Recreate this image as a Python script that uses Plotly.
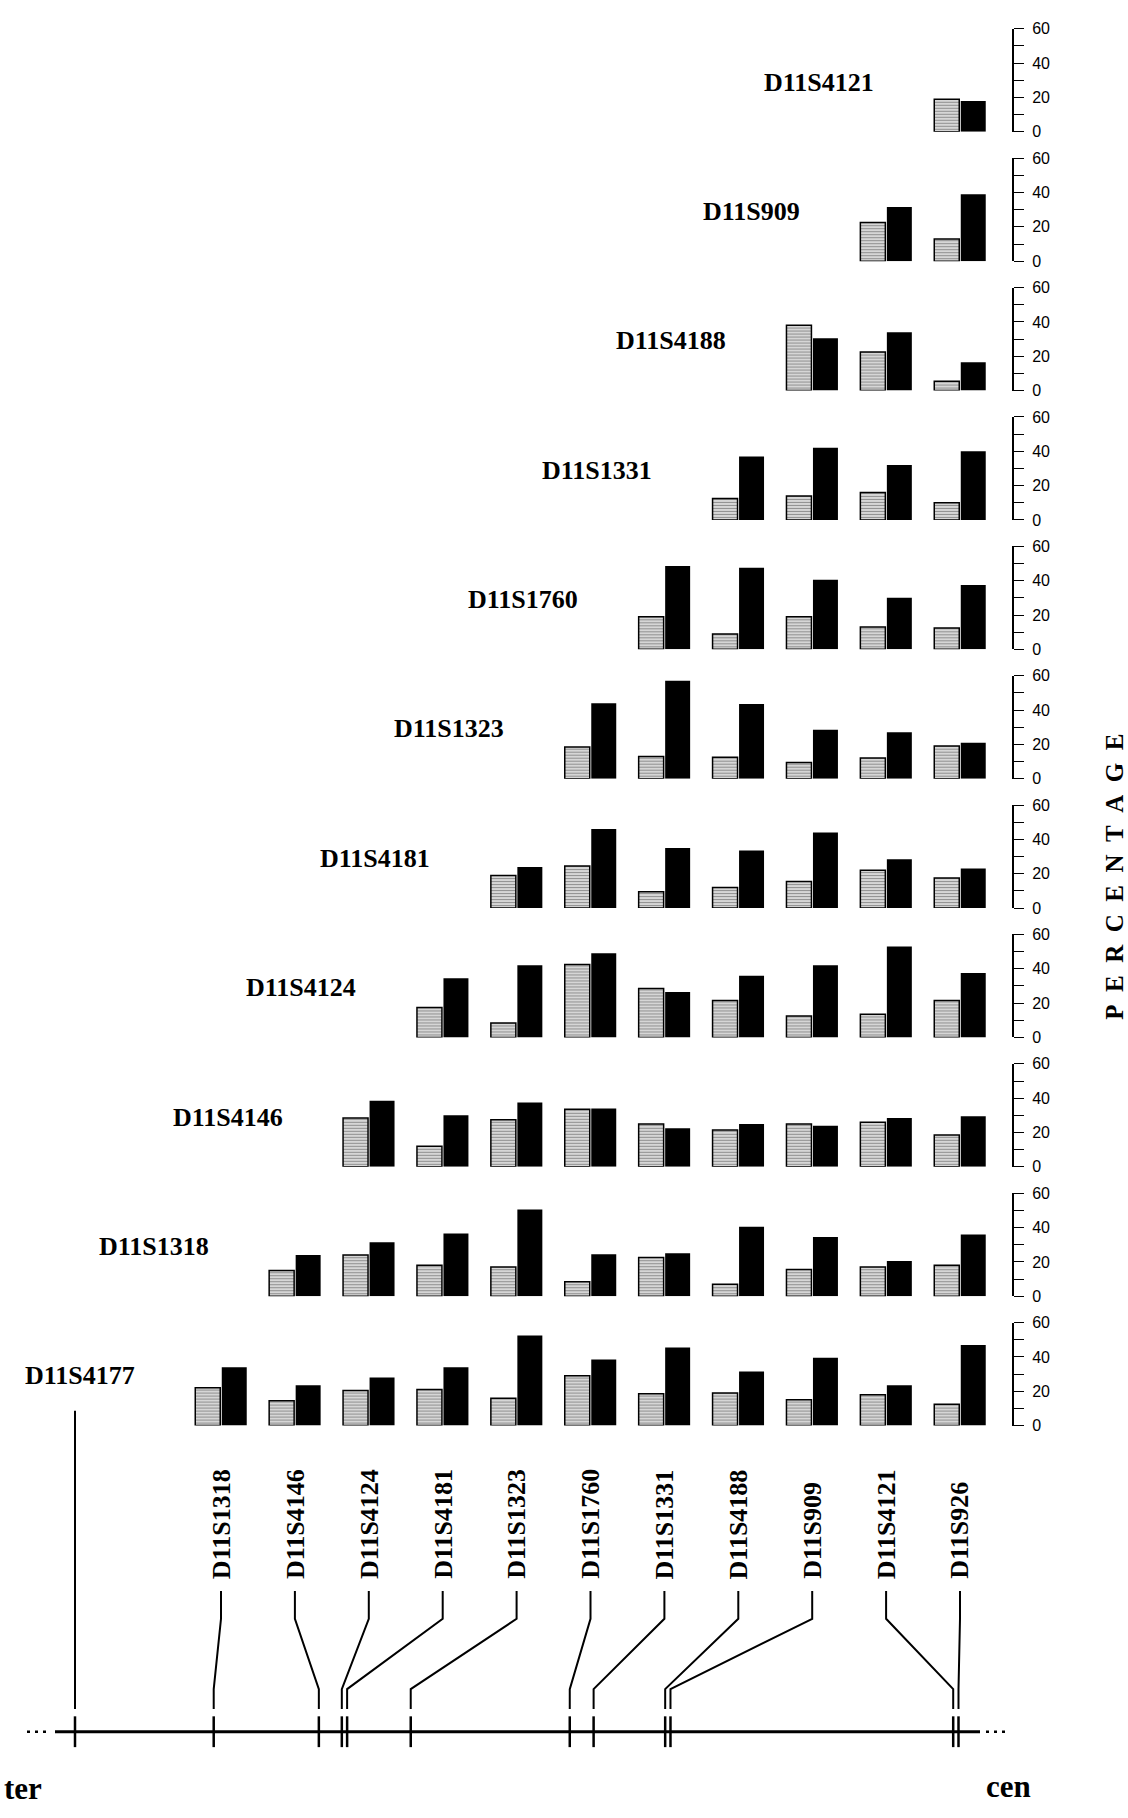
import plotly.graph_objects as go

# Marker columns along the map (ter -> cen); each panel lists its pairs against these
columns = ["D11S1318", "D11S4146", "D11S4124", "D11S4181", "D11S1323", "D11S1760",
           "D11S1331", "D11S4188", "D11S909", "D11S4121", "D11S926"]

# Panels from top to bottom; panel k covers the last k+1 columns
panel_markers = ["D11S4121", "D11S909", "D11S4188", "D11S1331", "D11S1760", "D11S1323",
                 "D11S4181", "D11S4124", "D11S4146", "D11S1318", "D11S4177"]

# Percentages: light (hatched) and dark (solid) bars per panel
light_D11S4121 = [19]
dark_D11S4121 = [18]
light_D11S909 = [22.5, 13]
dark_D11S909 = [31.5, 39]
light_D11S4188 = [38, 22.5, 5.5]
dark_D11S4188 = [30.5, 34, 16.5]
light_D11S1331 = [12.5, 14, 16, 10]
dark_D11S1331 = [37, 42, 32, 40]
light_D11S1760 = [19, 9, 19, 13, 12.5]
dark_D11S1760 = [48.5, 47.5, 40.5, 30, 37.5]
light_D11S1323 = [18.5, 13, 12.5, 9.5, 12, 19]
dark_D11S1323 = [44, 57, 43.5, 28.5, 27, 21]
light_D11S4181 = [19, 24.5, 9.5, 12, 15.5, 22, 17.5]
dark_D11S4181 = [24, 46, 35, 33.5, 44, 28.5, 23]
light_D11S4124 = [17.5, 8.5, 42.5, 28.5, 21.5, 12.5, 13.5, 21.5]
dark_D11S4124 = [34.5, 42, 49, 26.5, 36, 42, 53, 37.5]
light_D11S4146 = [28.5, 12, 27.5, 33.5, 25, 21.5, 25, 26, 18.5]
dark_D11S4146 = [38.5, 30, 37.5, 34, 22.5, 25, 24, 28.5, 29.5]
light_D11S1318 = [15, 24, 18, 17, 8.5, 22.5, 7, 15.5, 17, 18]
dark_D11S1318 = [24, 31.5, 36.5, 50.5, 24.5, 25, 40.5, 34.5, 20.5, 36]
light_D11S4177 = [22, 14.5, 20.5, 21, 16, 29, 18.5, 19, 15, 18, 12.5]
dark_D11S4177 = [34, 23.5, 28, 34, 52.5, 38.5, 45.5, 31.5, 39.5, 23.5, 47]

light_sets = [light_D11S4121, light_D11S909, light_D11S4188, light_D11S1331, light_D11S1760,
              light_D11S1323, light_D11S4181, light_D11S4124, light_D11S4146, light_D11S1318,
              light_D11S4177]
dark_sets = [dark_D11S4121, dark_D11S909, dark_D11S4188, dark_D11S1331, dark_D11S1760,
             dark_D11S1323, dark_D11S4181, dark_D11S4124, dark_D11S4146, dark_D11S1318,
             dark_D11S4177]

# Relative marker positions on the chromosome map (ter = 0, cen end = 100)
map_markers = ["D11S4177"] + columns
map_pos = [0, 15.7, 27.6, 30.2, 30.8, 38.0, 56.0, 58.7, 66.8, 67.4, 99.4, 100]

y_ticks = [0, 20, 40, 60]
y_minor = [10, 30, 50]

# ---- page geometry (pixels) ----
W, H = 1128, 1818
COL0, COLSTEP = 221.0, 73.9           # first column centre, column pitch
MAP0, MAPSCALE = 75.0, 8.835          # map origin and px per map unit
AXIS_X = 1013.0                       # vertical percentage axes
PANEL_BASE0, PANEL_STEP, PANEL_H = 125.0, 130.6, 104.0

SERIF = "Liberation Serif, Times New Roman, serif"
SANS = "Liberation Sans, Arial, sans-serif"


def py(p):
    return 1 - p / H


x_range = [-COL0 / COLSTEP, (W - COL0) / COLSTEP]
map_range = [-MAP0 / MAPSCALE, (W - MAP0) / MAPSCALE]


def col_to_map(idx):
    frac = (idx - x_range[0]) / (x_range[1] - x_range[0])
    return map_range[0] + frac * (map_range[1] - map_range[0])


fig = go.Figure()
layout_axes = {}
annotations = []

n_cols = len(columns)
for k, name in enumerate(panel_markers):
    ax_id = "y" if k == 0 else f"y{k + 1}"
    key = "yaxis" if k == 0 else f"yaxis{k + 1}"
    cats = columns[n_cols - len(light_sets[k]):]
    fig.add_trace(go.Bar(
        x=cats, y=light_sets[k], xaxis="x", yaxis=ax_id, showlegend=False,
        marker=dict(color="#d6d6d6", line=dict(color="black", width=1.5),
                    pattern=dict(shape="-", fgcolor="#4a4a4a", bgcolor="#d6d6d6",
                                 size=3, solidity=0.35)),
    ))
    fig.add_trace(go.Bar(
        x=cats, y=dark_sets[k], xaxis="x", yaxis=ax_id, showlegend=False,
        marker=dict(color="black", line=dict(width=0)),
    ))
    base = PANEL_BASE0 + PANEL_STEP * k
    layout_axes[key] = dict(
        domain=[py(base), py(base - PANEL_H)], range=[0, 60],
        anchor="free", position=AXIS_X / W, side="right",
        showline=True, linecolor="black", linewidth=2,
        ticks="outside", ticklen=10, tickwidth=1, tickcolor="black",
        tickvals=y_ticks, ticklabelstandoff=5,
        tickfont=dict(family=SANS, size=16, color="black"),
        minor=dict(tickvals=y_minor, ticks="outside", ticklen=10, tickwidth=1,
                   tickcolor="black"),
        showgrid=False, zeroline=False, fixedrange=True,
    )
    first_idx = n_cols - len(light_sets[k])
    annotations.append(dict(
        text=f"<b>{name}</b>", xref="x", yref=ax_id, x=first_idx - 1.14, y=29,
        xanchor="right", yanchor="middle", showarrow=False,
        font=dict(family=SERIF, size=26, color="black"),
    ))

# ---- chromosome map ----
map_y = 1740
for idx, name in enumerate(columns):
    u_top = col_to_map(idx)
    u_bot = map_pos[map_markers.index(name)]
    fig.add_trace(go.Scatter(
        x=[u_top, u_top, u_bot, u_bot], y=[1598, 1626, 1697, 1717],
        xaxis="x2", yaxis="y12", mode="lines", showlegend=False,
        line=dict(color="black", width=2), hoverinfo="skip",
    ))
    annotations.append(dict(
        text=f"<b>{name}</b>", xref="x", yref="paper", x=idx, y=py(1588),
        xanchor="center", yanchor="bottom", textangle=-90, showarrow=False,
        font=dict(family=SERIF, size=26, color="black"),
    ))

# line from the D11S4177 panel down to its map position
fig.add_trace(go.Scatter(
    x=[map_pos[0], map_pos[0]], y=[1416, 1717], xaxis="x2", yaxis="y12",
    mode="lines", showlegend=False, line=dict(color="black", width=2), hoverinfo="skip",
))

# baseline of the map
fig.add_trace(go.Scatter(
    x=[(55 - MAP0) / MAPSCALE, (980 - MAP0) / MAPSCALE], y=[map_y, map_y],
    xaxis="x2", yaxis="y12", mode="lines", showlegend=False,
    line=dict(color="black", width=3), hoverinfo="skip",
))
# marker ticks on the map
fig.add_trace(go.Scatter(
    x=map_pos, y=[map_y] * len(map_pos), xaxis="x2", yaxis="y12", mode="markers",
    showlegend=False, hoverinfo="skip",
    marker=dict(symbol="line-ns", size=22, line=dict(color="black", width=2.5)),
))

shapes = [
    dict(type="line", xref="paper", yref="paper", x0=27 / W, x1=50 / W,
         y0=py(map_y), y1=py(map_y), line=dict(color="black", width=2.5, dash="3px,5px")),
    dict(type="line", xref="paper", yref="paper", x0=986 / W, x1=1010 / W,
         y0=py(map_y), y1=py(map_y), line=dict(color="black", width=2.5, dash="3px,5px")),
]

annotations += [
    dict(text="<b>ter</b>", xref="paper", yref="paper", x=2 / W, y=py(1797),
         xanchor="left", yanchor="middle", showarrow=False,
         font=dict(family=SERIF, size=31, color="black")),
    dict(text="<b>cen</b>", xref="paper", yref="paper", x=984 / W, y=py(1795),
         xanchor="left", yanchor="middle", showarrow=False,
         font=dict(family=SERIF, size=31, color="black")),
    dict(text="\u00a0\u00a0".join("PERCENTAGE"), xref="paper", yref="paper",
         x=1115 / W, y=py(877), xanchor="center", yanchor="middle", textangle=-90,
         showarrow=False, font=dict(family=SERIF, size=25, color="black", weight="bold")),
]

fig.update_layout(
    width=W, height=H, margin=dict(l=0, r=0, t=0, b=0),
    paper_bgcolor="white", plot_bgcolor="rgba(0,0,0,0)",
    barmode="group", bargap=0.283, bargroupgap=0.057,
    xaxis=dict(type="category", categoryorder="array", categoryarray=columns,
               range=x_range, domain=[0, 1], anchor="y", visible=False, fixedrange=True),
    xaxis2=dict(range=map_range, domain=[0, 1], anchor="y12", visible=False, fixedrange=True),
    yaxis12=dict(range=[H, 0], domain=[0, 1], anchor="x2", visible=False, fixedrange=True),
    annotations=annotations, shapes=shapes,
    **layout_axes,
)

fig.write_html("out.html")
